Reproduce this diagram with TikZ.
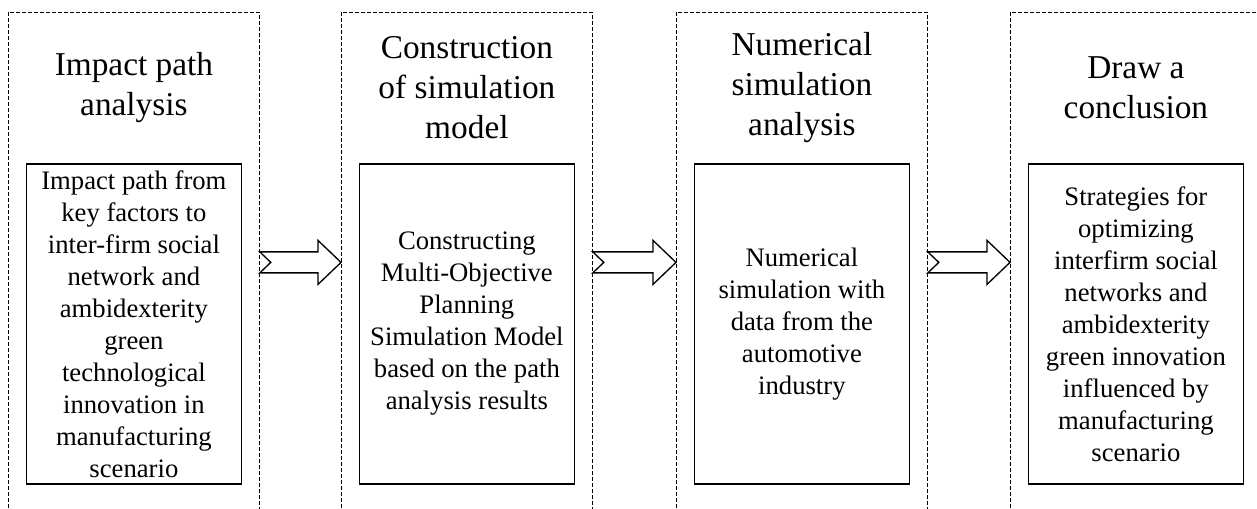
\documentclass[tikz,border=0pt]{standalone}
\usepackage{fontspec}
\setmainfont{Liberation Serif}
\usetikzlibrary{calc,positioning}

% hollow block arrow with a notched tail, from (#1) to (#2)
\newcommand{\blockarrow}[2]{%
  \draw[arrowline] ($(#1)+(0,10.5)$) -- ($(#2)+(-23,10.5)$) -- ($(#2)+(-23,22)$)
    -- (#2) -- ($(#2)+(-23,-22)$) -- ($(#2)+(-23,-10.5)$)
    -- ($(#1)+(0,-10.5)$) -- ($(#1)+(11,0)$) -- cycle;}

\begin{document}
\begin{tikzpicture}[x=0.75pt,y=-0.75pt,
    stage/.style={draw, dash pattern=on 3pt off 1.5pt, line width=0.6pt,
      minimum width=188.25pt, minimum height=375pt, inner sep=0pt, anchor=north west},
    heading/.style={align=center, font=\fontsize{25}{30}\selectfont},
    stepbox/.style={draw, line width=0.9pt, align=center, minimum width=161.25pt,
      minimum height=240pt, inner sep=1pt, font=\fontsize{20}{24}\selectfont},
    arrowline/.style={line width=1pt, line join=miter, fill=white}]
	\useasboundingbox (0,0) rectangle (1257,509);
	\clip (0,0) rectangle (1257,509);
	
	% dashed stages
	\node[stage] (col1) at (8,12) {};
	\node[stage] (col2) at (341,12) {};
	\node[stage] (col3) at (676,12) {};
	\node[stage] (col4) at (1010,12) {};
	
	% inner boxes
	\node[stepbox] (box1) at (col1.center |- 0,324) {Impact path from\\key factors to\\inter-firm social\\network and\\ambidexterity\\green\\technological\\innovation in\\manufacturing\\scenario};
	\node[stepbox] (box2) at (col2.center |- 0,324) {Constructing\\Multi-Objective\\Planning\\Simulation Model\\based on the path\\analysis results};
	\node[stepbox] (box3) at (col3.center |- 0,324) {Numerical\\simulation with\\data from the\\automotive\\industry};
	\node[stepbox] (box4) at (col4.north |- 0,324) {Strategies for\\optimizing\\interfirm social\\networks and\\ambidexterity\\green innovation\\influenced by\\manufacturing\\scenario};
	
	% headings
	\node[heading] (head1) at ($(col1.north)!0.5!(box1.north)$) {Impact path\\analysis};
	\node[heading] (head2) at ($(col2.north)!0.5!(box2.north)$) {Construction\\of simulation\\model};
	\node[heading] (head3) at ($(col3.north)!0.5!(box3.north)$) {Numerical\\simulation\\analysis};
	\node[heading] (head4) at ($(col4.north)!0.5!(box4.north)$) {Draw a\\conclusion};
	
	% arrows
	\blockarrow{col1.east}{col2.west}
	\blockarrow{col2.east}{col3.west}
	\blockarrow{col3.east}{col4.west}
\end{tikzpicture}
\end{document}
